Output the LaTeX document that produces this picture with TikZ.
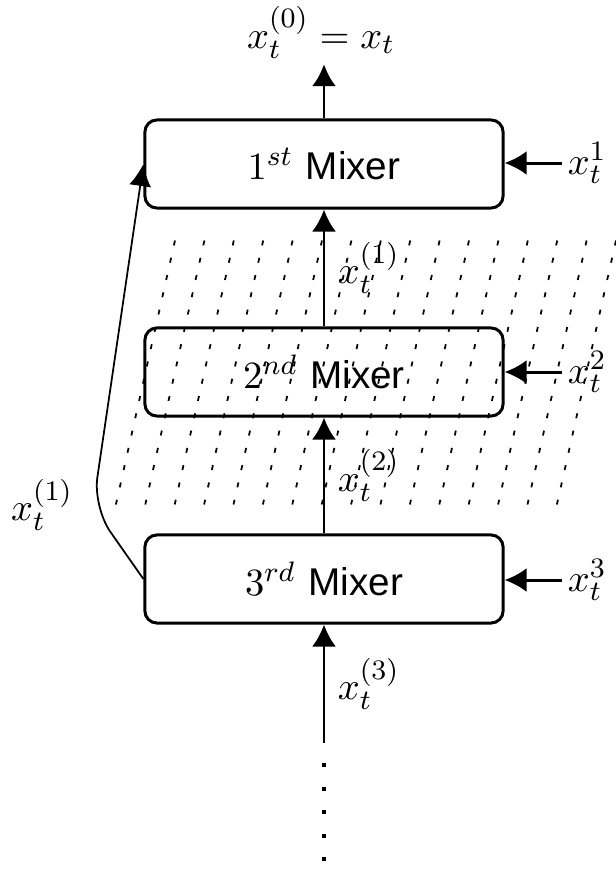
\documentclass[tikz,border=0pt]{standalone}
\usepackage{amsmath,amssymb}
\usepackage{fontspec}
\usepackage{tikz}
\usetikzlibrary{positioning,arrows.meta,calc}
\newfontfamily\mixerfont{Liberation Sans}

\begin{document}
\begin{tikzpicture}[
    x=0.01cm, y=-0.01cm,
    font=\fontsize{11}{13}\selectfont,
    mixer/.style={
      draw,
      line width=0.85pt,
      rounded corners=1.2mm,
      minimum width=3.58cm,
      minimum height=0.88cm
    },
    lbl/.style={inner sep=1.5pt},
    arrow/.style={-{Latex[length=2.2mm,width=2.4mm]}, line width=0.85pt},
    skip/.style={-{Latex[length=2.2mm,width=2.2mm]}, line width=0.5pt, rounded corners=3mm},
    hatch/.style={line width=0.5pt, dash pattern=on 0.05cm off 0.127cm},
    dots/.style={line width=1.2pt, dash pattern=on 0.04cm off 0.195cm}
  ]
    \useasboundingbox (0,0) rectangle (616,869);

    % slanted dashes round the 2nd mixer
    \foreach \k in {0,...,15}
      \draw[hatch] (175+29.4*\k, 240.5) -- ++(-59.1, 264);

    \node[mixer] (m1) at (324,164) {$1^{st}$ {\mixerfont Mixer}};
    \node[mixer] (m2) at (324,372) {$2^{nd}$ {\mixerfont Mixer}};
    \node[mixer] (m3) at (324,579) {$3^{rd}$ {\mixerfont Mixer}};

    \node[lbl, anchor=base] (out) at (321,48) {$x_t^{(0)} = x_t$};
    \draw[arrow] (m1.north) -- (m1.north |- out.south);

    \node[lbl, anchor=west] (in1) at (562,163) {$x_t^1$};
    \node[lbl, anchor=west] (in2) at (562,372) {$x_t^2$};
    \node[lbl, anchor=west] (in3) at (562,580) {$x_t^3$};
    \draw[arrow] (in1.west) -- (in1.west -| m1.east);
    \draw[arrow] (in2.west) -- (in2.west -| m2.east);
    \draw[arrow] (in3.west) -- (in3.west -| m3.east);

    \draw[arrow] (m2) -- node[lbl, right=2pt] {$x_t^{(1)}$} (m1);
    \draw[arrow] (m3) -- node[lbl, right=2pt] {$x_t^{(2)}$} (m2);
    \coordinate (feed) at (324,743);
    \draw[arrow] (feed) -- node[lbl, right=2pt] {$x_t^{(3)}$} (m3);

    % more mixers below
    \coordinate (dstart) at (324,763);
    \coordinate (dend) at (324,869);
    \draw[dots] (dstart) -- (dend);

    % skip connection
    \coordinate (bend) at (93,507);
    \draw[skip] (m3.west) -- (bend) -- (m1.west);
    \node[lbl] (skiplbl) at (42,505) {$x_t^{(1)}$};
  \end{tikzpicture}
\end{document}
